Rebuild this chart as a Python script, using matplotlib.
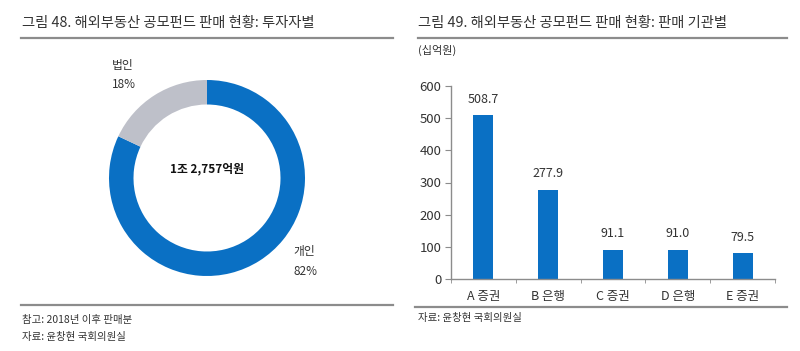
import matplotlib
matplotlib.use("Agg")
import matplotlib.pyplot as plt
from matplotlib.lines import Line2D

plt.rcParams['font.family'] = ['Noto Sans CJK KR', 'DejaVu Sans']

# 왼쪽: 투자자별
INVESTORS   = ["개인", "법인"]
INV_SHARE   = [82, 18]
TOTAL_LABEL = "1조 2,757억원"

# 오른쪽: 판매 기관별
SELLERS     = ["A 증권", "B 은행", "C 증권", "D 은행", "E 증권"]
SALES       = [508.7, 277.9, 91.1, 91.0, 79.5]
Y_TICKS     = [0, 100, 200, 300, 400, 500, 600]

BLUE  = "#0A70C4"
GRAY  = "#BEC0C9"
TEXT  = "#333333"
RULE  = "#8C8C8C"

W, H = 800, 351
fig = plt.figure(figsize=(W / 100, H / 100), dpi=100)

def px(x, y):
    return x / W, 1 - y / H

def rule(x0, x1, y):
    fig.add_artist(Line2D([x0 / W, x1 / W], [1 - y / H] * 2, color=RULE, lw=1.6))

def ftext(x, y, s, **kw):
    fx, fy = px(x, y)
    fig.text(fx, fy, s, va="center", ha="left", color=TEXT, **kw)

# 제목, 구분선, 출처
ftext(22, 23, "그림 48. 해외부동산 공모펀드 판매 현황: 투자자별", fontsize=10.3)
ftext(418, 23, "그림 49. 해외부동산 공모펀드 판매 현황: 판매 기관별", fontsize=10.3)
rule(21, 393, 38)
rule(418, 787, 38)
ftext(418, 50, "(십억원)", fontsize=8)
rule(21, 393, 305)
rule(415, 787, 307)
ftext(22, 320, "참고: 2018년 이후 판매분", fontsize=7.5)
ftext(22, 337, "자료: 윤창현 국회의원실", fontsize=7.5)
ftext(418, 318, "자료: 윤창현 국회의원실", fontsize=7.5)

# 도넛 차트
cx, cy, r = 207, 178, 98
half = 1.12 * r
ax1 = fig.add_axes([(cx - half) / W, 1 - (cy + half) / H, 2 * half / W, 2 * half / H])
ax1.pie(INV_SHARE, colors=[BLUE, GRAY], startangle=90, counterclock=False,
        wedgeprops={"width": 0.25, "edgecolor": "none"})
ax1.set_xlim(-1.12, 1.12)
ax1.set_ylim(-1.12, 1.12)
ax1.set_aspect("equal")
ax1.axis("off")
ax1.text(0.0, 0.09, TOTAL_LABEL, ha="center", va="center", fontsize=8.5,
         fontweight="bold", color="#111111")
# 라벨 위치 (데이터 좌표)
lab_pos = {"개인": (0.88, -0.755), "법인": (-0.97, 1.15)}
for name, share in zip(INVESTORS, INV_SHARE):
    x, y = lab_pos[name]
    ax1.text(x, y, name, ha="left", va="center", fontsize=8.5, color=TEXT, clip_on=False)
    ax1.text(x, y - 0.2, f"{share}%", ha="left", va="center", fontsize=8.5, color=TEXT, clip_on=False)

# 막대 차트
left, right, y0, y600 = 451, 775, 279, 86
ax2 = fig.add_axes([left / W, 1 - y0 / H, (right - left) / W, (y0 - y600) / H])
xs = range(len(SELLERS))
ax2.bar(xs, SALES, width=0.31, color=BLUE)
for x, v in zip(xs, SALES):
    ax2.text(x, v + 50, f"{v:.1f}", ha="center", va="center", fontsize=9, color=TEXT)
ax2.set_xlim(-0.5, len(SELLERS) - 0.5)
ax2.set_ylim(0, 600)
ax2.set_yticks(Y_TICKS)
ax2.set_xticks(list(xs))
ax2.set_xticklabels(SELLERS)
ax2.set_xticks([i - 0.5 for i in range(len(SELLERS) + 1)], minor=True)
ax2.tick_params(axis="x", which="major", length=0, pad=8, labelsize=9, labelcolor=TEXT)
ax2.tick_params(axis="x", which="minor", length=3, color=RULE, direction="out")
ax2.tick_params(axis="y", length=4, color=RULE, direction="out", labelsize=9.5,
                labelcolor=TEXT, pad=3)
for s in ["top", "right"]:
    ax2.spines[s].set_visible(False)
for s in ["left", "bottom"]:
    ax2.spines[s].set_color(RULE)
    ax2.spines[s].set_linewidth(1)

fig.savefig("out.png", dpi=100)
